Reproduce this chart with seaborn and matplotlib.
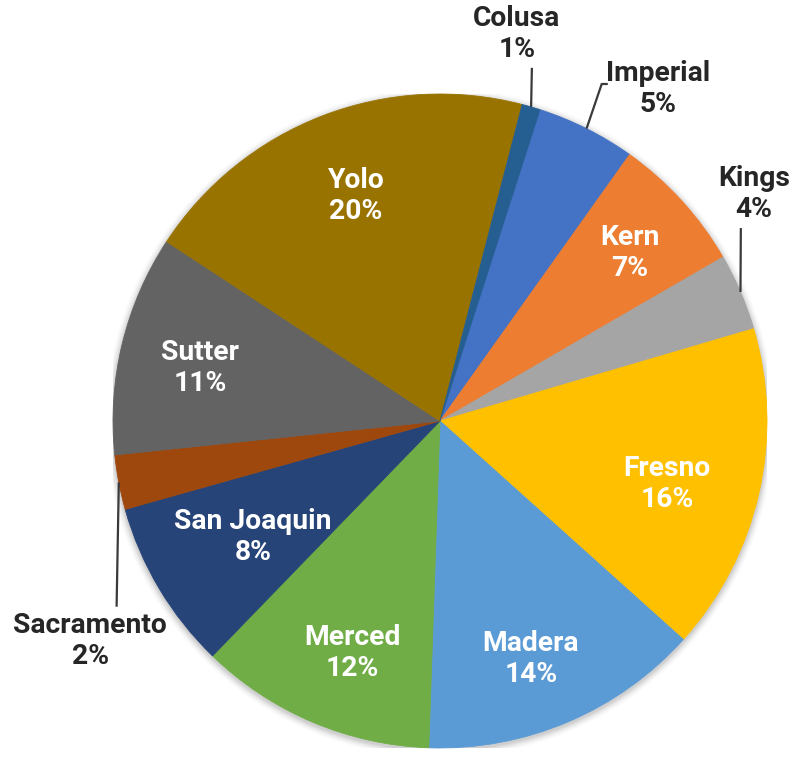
import matplotlib
matplotlib.use("Agg")
import matplotlib.pyplot as plt
from matplotlib.patches import Circle
import seaborn as sns
import numpy as np

# ---- data ----
counties = ["Imperial", "Kern", "Kings", "Fresno", "Madera", "Merced",
            "San Joaquin", "Sacramento", "Sutter", "Yolo", "Colusa"]
shares = [4.9, 6.8, 3.8, 16.2, 13.9, 11.7, 8.4, 2.7, 10.9, 19.8, 0.9]
pct_labels = ["5%", "7%", "4%", "16%", "14%", "12%", "8%", "2%", "11%", "20%", "1%"]
colors = ["#4472C4", "#ED7D31", "#A5A5A5", "#FFC000", "#5B9BD5", "#70AD47",
          "#264478", "#9E480E", "#636363", "#997300", "#255E91"]

# ---- style ----
sns.set_theme(style="white")
plt.rcParams["font.family"] = ["Roboto", "DejaVu Sans"]

W, H = 800, 760
fig = plt.figure(figsize=(W / 100, H / 100), dpi=100)
cx, cy, R = 440, 421, 327
ax = fig.add_axes([(cx - R) / W, (H - cy - R) / H, 2 * R / W, 2 * R / H])

# soft shadow
for i, a in enumerate(np.linspace(0.05, 0.012, 6)):
    ax.add_patch(Circle((0.0, -0.006), 1.0 + 0.004 * (i + 1), color="black",
                        alpha=a, lw=0, zorder=0))

palette = sns.color_palette(colors)
wedges, _ = ax.pie(shares, colors=palette, startangle=72.2, counterclock=False,
                   radius=1.0, wedgeprops=dict(linewidth=0.6))
for w, c in zip(wedges, palette):
    w.set_edgecolor(c)
    w.set_zorder(2)

# inside label positions (layout, in axis units)
inside_pos = {
    "Kern": (0.581, 0.514),
    "Fresno": (0.694, -0.193),
    "Madera": (0.278, -0.727),
    "Merced": (-0.269, -0.709),
    "San Joaquin": (-0.572, -0.355),
    "Sutter": (-0.734, 0.162),
    "Yolo": (-0.257, 0.688),
}
# outside labels: text centre, leader-line outer end, optional hook end
outside_pos = {
    "Colusa": ((0.235, 1.183), (0.281, 1.080), None),
    "Imperial": ((0.667, 1.015), (0.495, 1.032), (0.511, 1.032)),
    "Kings": ((0.960, 0.694), (0.920, 0.590), None),
    "Sacramento": ((-1.070, -0.673), (-0.989, -0.568), None),
}

fs = 20.3
for w, name, pct in zip(wedges, counties, pct_labels):
    txt = f"{name}\n{pct}"
    if name in inside_pos:
        x, y = inside_pos[name]
        ax.text(x, y, txt, ha="center", va="center", color="white",
                fontsize=fs, fontweight="bold", linespacing=1.17, zorder=5)
    else:
        (tx, ty), (lx, ly), hook = outside_pos[name]
        th = np.deg2rad((w.theta1 + w.theta2) / 2)
        ex, ey = np.cos(th), np.sin(th)
        ax.plot([ex, lx], [ey, ly], color="#3a3a3a", lw=1.6, zorder=4,
                solid_capstyle="butt", clip_on=False)
        if hook is not None:
            ax.plot([lx, hook[0]], [ly, hook[1]], color="#3a3a3a", lw=1.6,
                    zorder=4, clip_on=False)
        ax.text(tx, ty, txt, ha="center", va="center", color="#262626",
                fontsize=fs, fontweight="bold", linespacing=1.17, zorder=5,
                clip_on=False)

ax.set_xlim(-1, 1)
ax.set_ylim(-1, 1)
ax.set_aspect("equal")
ax.axis("off")

fig.savefig("out.png", dpi=100, facecolor="white")
